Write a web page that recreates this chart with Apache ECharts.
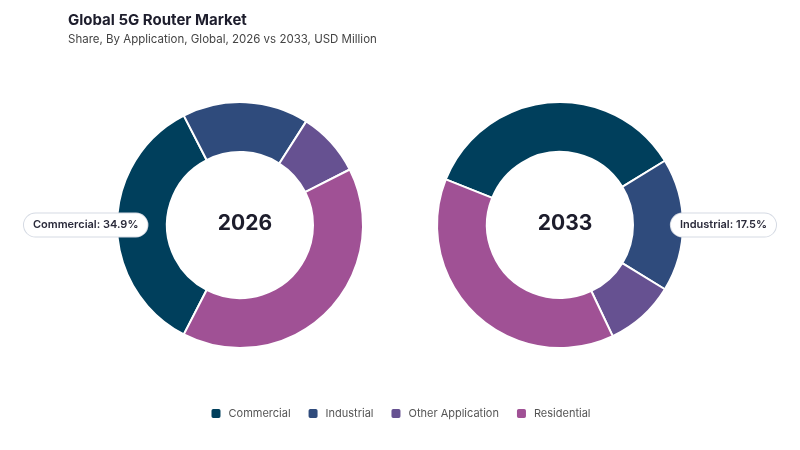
<!DOCTYPE html>
<html>
<head>
<meta charset="utf-8">
<script src="https://cdn.jsdelivr.net/npm/echarts@6/dist/echarts.min.js"></script>
<style>
  html, body { margin: 0; padding: 0; background: #fff; }
  #chart { width: 800px; height: 450px; }
</style>
</head>
<body>
<div id="chart"></div>
<script>
// data
var categories = ['Commercial', 'Industrial', 'Other Application', 'Residential'];
var colors = ['#003f5c', '#2f4b7c', '#665191', '#a05195'];
var share2026 = [34.9, 16.6, 8.5, 40.0];
var share2033 = [35.2, 17.5, 9.2, 38.1];
var years = ['2026', '2033'];
// which slice carries the callout in each ring
var callout2026 = 0;
var callout2033 = 1;

var font = 'Inter, "Noto Sans", sans-serif';

// rotate the ring so the callout slice sits on the horizontal
function startFor(values, idx, side) {
  var total = 0, before = 0;
  for (var i = 0; i < values.length; i++) {
    total += values[i];
    if (i < idx) before += values[i];
  }
  var mid = (before + values[idx] / 2) / total * 360;
  return side + mid;
}

function buildData(values, idx) {
  return values.map(function (v, i) {
    var d = { name: categories[i], value: v, itemStyle: { color: colors[i] } };
    if (i === idx) {
      d.label = {
        show: true,
        formatter: '{b}: {d}%'
      };
    }
    return d;
  });
}

function ring(values, idx, center, side) {
  return {
    type: 'pie',
    center: center,
    radius: [73, 123],
    startAngle: startFor(values, idx, side),
    clockwise: true,
    avoidLabelOverlap: false,
    itemStyle: { borderColor: '#fff', borderWidth: 2 },
    label: {
      show: false,
      position: 'outside',
      alignTo: 'edge',
      edgeDistance: 24,
      fontFamily: font,
      fontSize: 11,
      fontWeight: 600,
      color: '#2a2a3a',
      backgroundColor: '#fff',
      borderColor: '#d5dae3',
      borderWidth: 1,
      borderRadius: 12,
      padding: [6, 9]
    },
    labelLine: { show: false, length: 0, length2: 0 },
    emphasis: { disabled: true },
    data: buildData(values, idx)
  };
}

var chart = echarts.init(document.getElementById('chart'));
chart.setOption({
  animation: false,
  title: [
    {
      text: 'Global 5G Router Market',
      subtext: 'Share, By Application, Global, 2026 vs 2033, USD Million',
      left: 63,
      top: 8,
      itemGap: 6,
      textStyle: { fontFamily: font, fontSize: 15, fontWeight: 700, color: '#1d1d2c' },
      subtextStyle: { fontFamily: font, fontSize: 11.5, color: '#444' }
    },
    {
      text: years[0], left: '30%', top: 219,
      textAlign: 'center', textVerticalAlign: 'middle',
      textStyle: { fontFamily: font, fontSize: 21, fontWeight: 700, color: '#1d1d2c' }
    },
    {
      text: years[1], left: '70%', top: 219,
      textAlign: 'center', textVerticalAlign: 'middle',
      textStyle: { fontFamily: font, fontSize: 21, fontWeight: 700, color: '#1d1d2c' }
    }
  ],
  legend: {
    data: categories,
    bottom: 25,
    left: 'center',
    icon: 'roundRect',
    itemWidth: 11,
    itemHeight: 11,
    itemGap: 16,
    textStyle: { fontFamily: font, fontSize: 11, color: '#555', padding: [0, 0, 0, 2] }
  },
  series: [
    ring(share2026, callout2026, ['30%', '50%'], 180),
    ring(share2033, callout2033, ['70%', '50%'], 0)
  ]
});
</script>
</body>
</html>
